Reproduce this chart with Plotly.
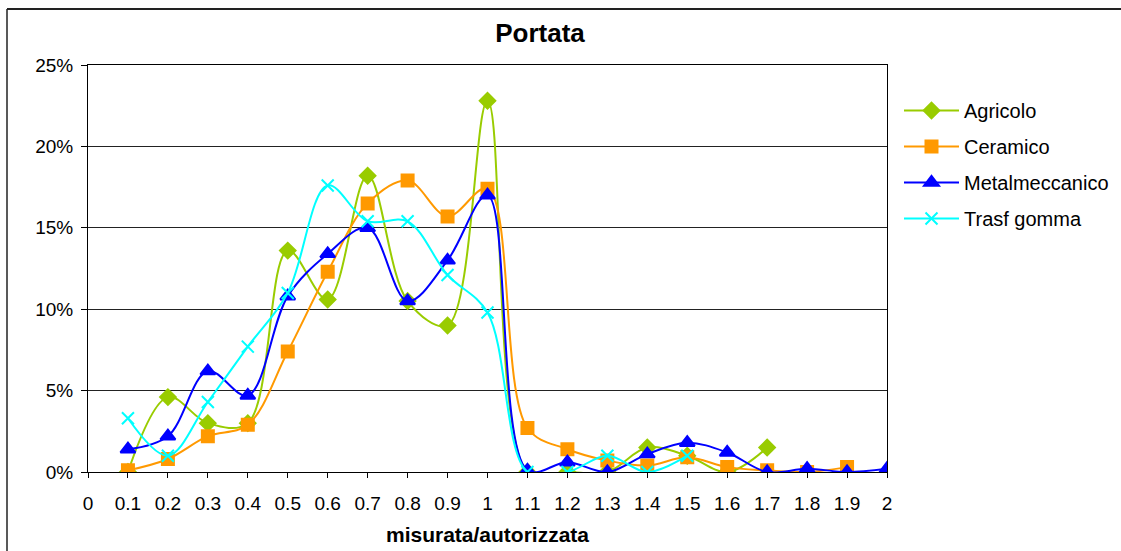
import plotly.graph_objects as go

# Ratio measured / authorized (x axis)
ratio = [0.1, 0.2, 0.3, 0.4, 0.5, 0.6, 0.7, 0.8, 0.9, 1.0,
         1.1, 1.2, 1.3, 1.4, 1.5, 1.6, 1.7, 1.8, 1.9, 2.0]

# Share of measurements per class (%) for each sector
agricolo = [0.0, 4.6, 3.0, 3.0, 13.6, 10.6, 18.2, 10.5, 9.0, 22.8,
            0.0, 0.0, 0.0, 1.5, 1.0, 0.0, 1.5]
ceramico = [0.1, 0.8, 2.2, 2.9, 7.4, 12.3, 16.5, 17.9, 15.7, 17.4,
            2.7, 1.4, 0.7, 0.4, 0.9, 0.3, 0.1, 0.0, 0.3]
metalmeccanico = [1.4, 2.2, 6.2, 4.7, 10.8, 13.4, 15.0, 10.5, 13.0, 17.0,
                  0.1, 0.6, 0.0, 1.1, 1.8, 1.2, 0.0, 0.2, 0.0, 0.2]
trasf_gomma = [3.3, 1.0, 4.3, 7.7, 11.0, 17.6, 15.4, 15.4, 12.1, 9.8,
               0.0, 0.0, 1.0, 0.0, 1.0]

x_ticks = [i / 10 for i in range(21)]
x_tick_text = ["0", "0.1", "0.2", "0.3", "0.4", "0.5", "0.6", "0.7", "0.8", "0.9", "1",
               "1.1", "1.2", "1.3", "1.4", "1.5", "1.6", "1.7", "1.8", "1.9", "2"]
y_ticks = [0, 5, 10, 15, 20, 25]
y_tick_text = ["0%", "5%", "10%", "15%", "20%", "25%"]

FONT = "Liberation Sans, Arial, sans-serif"

series = [
    ("Agricolo", agricolo, "#99CC00", "diamond", 12),
    ("Ceramico", ceramico, "#FF9900", "square", 12),
    ("Metalmeccanico", metalmeccanico, "#0000FF", "triangle-up", 13),
    ("Trasf gomma", trasf_gomma, "#00FFFF", "x-thin-open", 12),
]

fig = go.Figure()
for name, vals, color, symbol, size in series:
    fig.add_trace(go.Scatter(
        x=ratio[:len(vals)], y=vals, name=name, legendgroup=name,
        mode="lines+markers",
        line=dict(color=color, width=2, shape="spline", smoothing=1.0),
        marker=dict(symbol=symbol, size=size, color=color,
                    line=dict(color=color, width=2)),
    ))

fig.update_layout(
    width=1121, height=551,
    margin=dict(l=88, r=234, t=65, b=79, autoexpand=False),
    paper_bgcolor="white", plot_bgcolor="white",
    font=dict(family=FONT, size=19, color="black"),
    title=dict(text="<b>Portata</b>", x=540 / 1121, xanchor="center",
               y=1 - 33 / 551, yanchor="middle",
               font=dict(family=FONT, size=26, color="black")),
    legend=dict(x=(899 - 88) / 799, xanchor="left", y=(472 - 91) / 407, yanchor="top",
                font=dict(family=FONT, size=20, color="black"),
                tracegroupgap=7, itemwidth=55, bgcolor="rgba(0,0,0,0)"),
    showlegend=True,
)

fig.update_xaxes(
    range=[0, 2], tickvals=x_ticks, ticktext=x_tick_text,
    showgrid=False, zeroline=False,
    showline=True, linecolor="black", linewidth=1, mirror=True,
    ticks="outside", ticklen=5, tickcolor="black", ticklabelstandoff=9,
    tickfont=dict(family=FONT, size=19),
    title=dict(text="<b>misurata/autorizzata</b>", standoff=14,
               font=dict(family=FONT, size=21)),
)
fig.update_yaxes(
    range=[0, 25], tickvals=y_ticks, ticktext=y_tick_text,
    showgrid=True, gridcolor="#222222", gridwidth=1, zeroline=False,
    showline=True, linecolor="black", linewidth=1, mirror=True,
    ticks="outside", ticklen=6, tickcolor="black", ticklabelstandoff=4,
    tickfont=dict(family=FONT, size=19),
)

# Outer chart frame (top and left edges)
frame_left = (7 - 88) / 799
frame_top = (472 - 9) / 407
fig.add_shape(type="line", xref="paper", yref="paper",
              x0=frame_left, x1=1.5, y0=frame_top, y1=frame_top,
              line=dict(color="#222222", width=2), layer="below")
fig.add_shape(type="line", xref="paper", yref="paper",
              x0=frame_left, x1=frame_left, y0=-0.5, y1=frame_top,
              line=dict(color="#222222", width=1.5), layer="below")

fig.write_html("out.html")
